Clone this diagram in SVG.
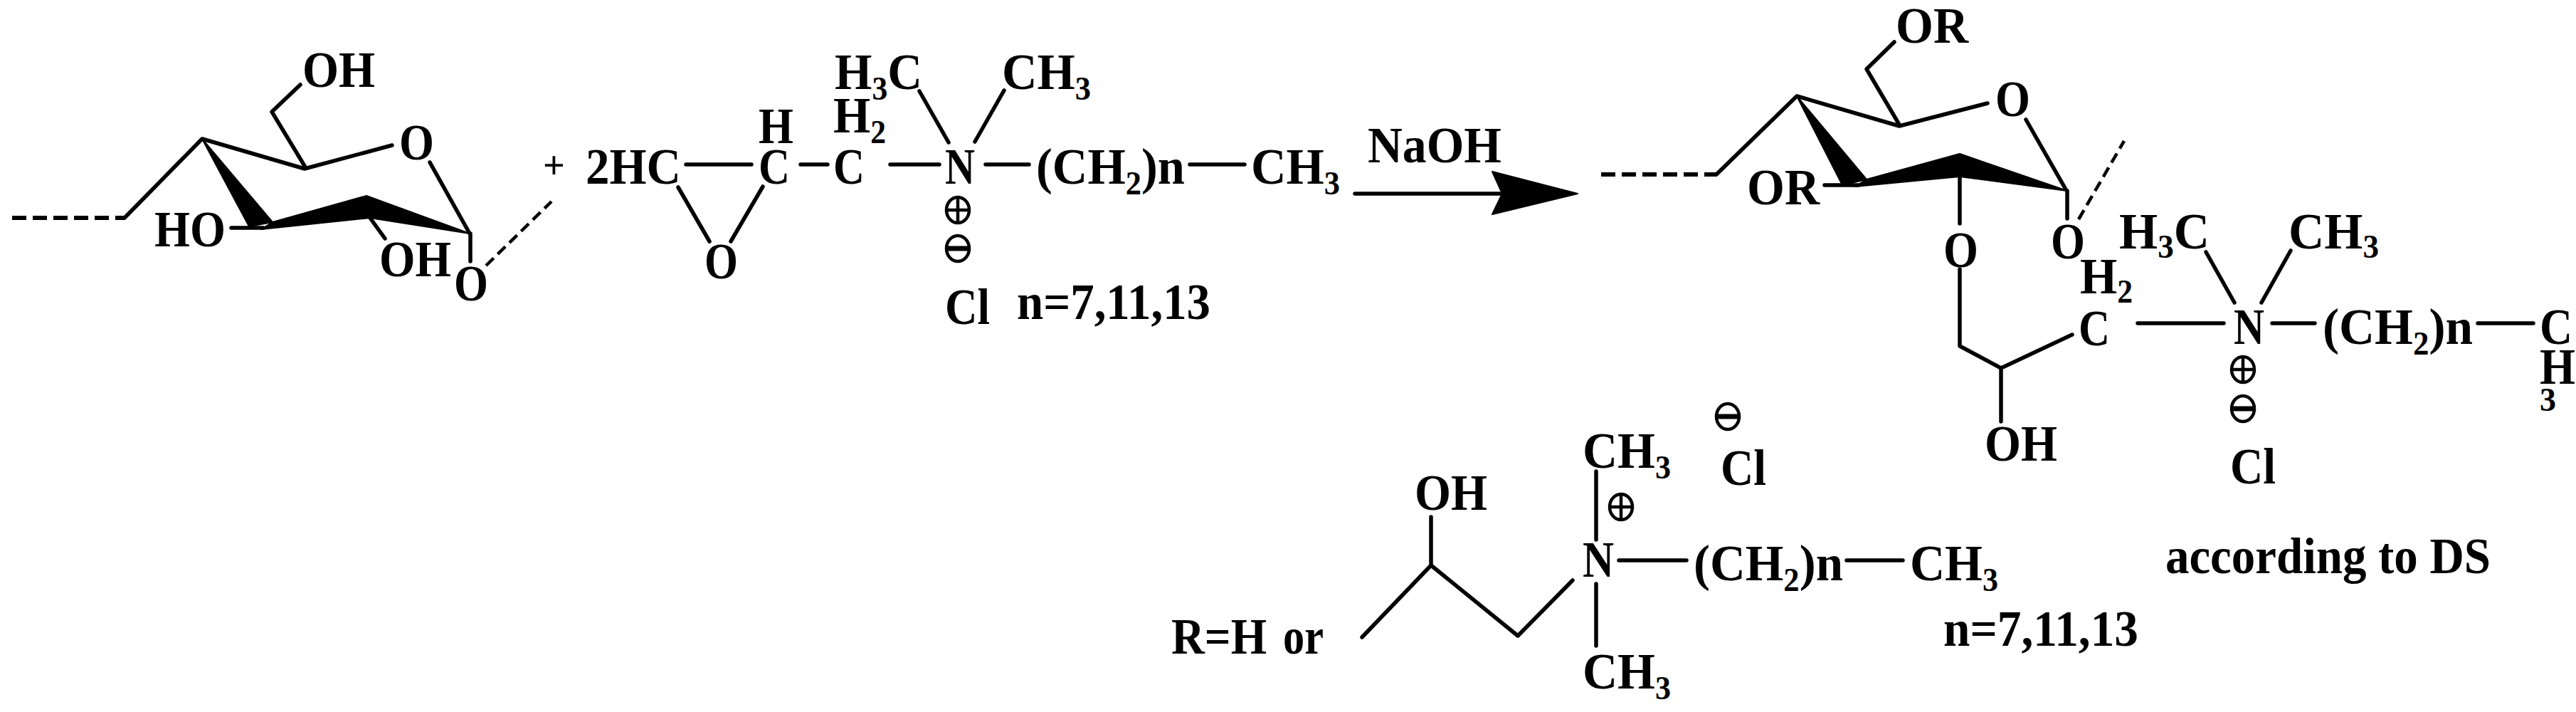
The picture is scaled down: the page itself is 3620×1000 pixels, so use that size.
<svg xmlns="http://www.w3.org/2000/svg" width="3620" height="1000" viewBox="0 0 3620 1000">
<style>
text{font-family:"Liberation Serif","Times New Roman",serif;font-weight:bold;font-size:71px;fill:#000}
tspan.s{font-size:46px}
.b{stroke:#000;stroke-width:5.5;fill:none;stroke-linecap:round;stroke-linejoin:round}
.d{stroke:#000;stroke-width:6;fill:none;stroke-dasharray:20 9}
.e{stroke:#000;stroke-width:4.5;fill:none;stroke-dasharray:15 8}
.w{fill:#000;stroke:#000;stroke-width:2;stroke-linejoin:round}
.c{fill:none;stroke:#000;stroke-width:4.5}
</style>
<defs>
<g id="plus"><ellipse class="c" rx="16" ry="18"/><path class="c" d="M-16 0H16M0-18V18"/></g>
<g id="minus"><ellipse class="c" rx="16" ry="18"/><path d="M-15-3.500H15V3.500H-15Z" fill="#000"/></g>
</defs>
<rect width="3620" height="1000" fill="#fff"/>
<g id="connectors">
<path class="d" d="M17 306H175"/>
<path class="b" d="M175 306L284 195L428 237L551 204M428 233L382 157L422 119M520 306L541 335M604 228L660 328M661 328V367M325 320H370"/>
<path class="e" d="M683 373L775 283"/>
<polygon class="w" points="284,195 350,318 383,312"/>
<polygon class="w" points="367,322 383,312 515,275 660,328 520,306"/>
<path class="b" d="M964 231H1056M1125 231H1163M1251 231H1320M1385 231H1446M1672 231H1749M1292 128L1333 200M1411 127L1370 199M953 263L997 339M1072 262L1027 339"/>
<path class="b" d="M1904 272H2110" stroke-linecap="butt"/>
<polygon class="w" points="2217,272 2097,241 2111,272 2097,301"/>
<path class="d" d="M2250 245H2412"/>
<path class="b" d="M2412 245L2525 135L2669 177L2793 145M2669 175L2623 97L2662 59M2847 168L2903 266M2564 260H2612M2754 248V314M2905 268V307M2754 378V486L2812 517L2912 470M2812 517V592M3004 454H3125M3193 454H3253M3482 454H3560M3100 354L3140 425M3219 352L3178 425"/>
<path class="e" d="M2921 308L2985 198"/>
<polygon class="w" points="2525,135 2589,260 2623,252"/>
<polygon class="w" points="2607,262 2623,252 2754,216 2905,268 2754,248"/>
<path class="b" d="M2243 662V758M2243 820V907M2011 726V794L1914 895M2011 794L2133 893L2210 815M2275 787H2370M2595 787H2674"/>
</g>
<g id="glucose">
<text x="425" y="122" textLength="102" lengthAdjust="spacingAndGlyphs">OH</text>
<text x="561" y="224" textLength="49" lengthAdjust="spacingAndGlyphs">O</text>
<text x="217" y="346" textLength="100" lengthAdjust="spacingAndGlyphs">HO</text>
<text x="533" y="388" textLength="101" lengthAdjust="spacingAndGlyphs">OH</text>
<text x="638" y="422" textLength="48" lengthAdjust="spacingAndGlyphs">O</text>
<text x="763" y="250" style="font-size:54px">+</text>
</g>
<g id="reagent">
<text x="823" y="258" textLength="134" lengthAdjust="spacingAndGlyphs">2HC</text>
<text x="1066" y="258" textLength="44" lengthAdjust="spacingAndGlyphs">C</text>
<text x="1066" y="201" textLength="49" lengthAdjust="spacingAndGlyphs">H</text>
<text x="1171" y="258" textLength="44" lengthAdjust="spacingAndGlyphs">C</text>
<text x="1171" y="186" textLength="74" lengthAdjust="spacingAndGlyphs">H<tspan class="s" dy="15">2</tspan></text>
<text x="1328" y="258" textLength="42" lengthAdjust="spacingAndGlyphs">N</text>
<text x="1456" y="258" textLength="209" lengthAdjust="spacingAndGlyphs">(CH<tspan class="s" dy="15">2</tspan><tspan dy="-15">)n</tspan></text>
<text x="1758" y="258" textLength="125" lengthAdjust="spacingAndGlyphs">CH<tspan class="s" dy="15">3</tspan></text>
<text x="1173" y="125" textLength="123" lengthAdjust="spacingAndGlyphs">H<tspan class="s" dy="15">3</tspan><tspan dy="-15">C</tspan></text>
<text x="1408" y="125" textLength="125" lengthAdjust="spacingAndGlyphs">CH<tspan class="s" dy="15">3</tspan></text>
<text x="990" y="391" textLength="47" lengthAdjust="spacingAndGlyphs">O</text>
<use href="#plus" x="1346" y="295"/>
<use href="#minus" x="1346" y="349"/>
<text x="1328" y="455" textLength="63" lengthAdjust="spacingAndGlyphs">Cl</text>
<text x="1429" y="448" textLength="272" lengthAdjust="spacingAndGlyphs">n=7,11,13</text>
</g>
<g id="arrow-label">
<text x="1922" y="228" textLength="188" lengthAdjust="spacingAndGlyphs">NaOH</text>
</g>
<g id="product">
<text x="2664" y="60" textLength="102" lengthAdjust="spacingAndGlyphs">OR</text>
<text x="2804" y="163" textLength="49" lengthAdjust="spacingAndGlyphs">O</text>
<text x="2455" y="287" textLength="102" lengthAdjust="spacingAndGlyphs">OR</text>
<text x="2882" y="363" textLength="48" lengthAdjust="spacingAndGlyphs">O</text>
<text x="2731" y="375" textLength="49" lengthAdjust="spacingAndGlyphs">O</text>
<text x="2789" y="647" textLength="102" lengthAdjust="spacingAndGlyphs">OH</text>
<text x="2921" y="485" textLength="44" lengthAdjust="spacingAndGlyphs">C</text>
<text x="2923" y="412" textLength="74" lengthAdjust="spacingAndGlyphs">H<tspan class="s" dy="13">2</tspan></text>
<text x="3139" y="483" textLength="43" lengthAdjust="spacingAndGlyphs">N</text>
<text x="3264" y="483" textLength="211" lengthAdjust="spacingAndGlyphs">(CH<tspan class="s" dy="15">2</tspan><tspan dy="-15">)n</tspan></text>
<text x="3569" y="483" textLength="46" lengthAdjust="spacingAndGlyphs">C</text>
<text x="3569" y="539" textLength="50" lengthAdjust="spacingAndGlyphs">H</text>
<text x="3569" y="577" style="font-size:46px">3</text>
<text x="2978" y="349" textLength="127" lengthAdjust="spacingAndGlyphs">H<tspan class="s" dy="13">3</tspan><tspan dy="-13">C</tspan></text>
<text x="3216" y="349" textLength="127" lengthAdjust="spacingAndGlyphs">CH<tspan class="s" dy="13">3</tspan></text>
<use href="#plus" x="3152" y="519"/>
<use href="#minus" x="3152" y="574"/>
<text x="3134" y="679" textLength="64" lengthAdjust="spacingAndGlyphs">Cl</text>
<text x="3043" y="805" textLength="457" lengthAdjust="spacingAndGlyphs">according to DS</text>
</g>
<g id="r-group">
<text x="1646" y="918" textLength="134" lengthAdjust="spacingAndGlyphs">R=H</text>
<text x="1803" y="918" textLength="57" lengthAdjust="spacingAndGlyphs">or</text>
<text x="1988" y="716" textLength="102" lengthAdjust="spacingAndGlyphs">OH</text>
<text x="2224" y="657" textLength="124" lengthAdjust="spacingAndGlyphs">CH<tspan class="s" dy="15">3</tspan></text>
<use href="#plus" x="2278" y="712"/>
<use href="#minus" x="2428" y="585"/>
<text x="2418" y="681" textLength="64" lengthAdjust="spacingAndGlyphs">Cl</text>
<text x="2224" y="810" textLength="44" lengthAdjust="spacingAndGlyphs">N</text>
<text x="2380" y="815" textLength="210" lengthAdjust="spacingAndGlyphs">(CH<tspan class="s" dy="15">2</tspan><tspan dy="-15">)n</tspan></text>
<text x="2684" y="815" textLength="124" lengthAdjust="spacingAndGlyphs">CH<tspan class="s" dy="15">3</tspan></text>
<text x="2224" y="967" textLength="124" lengthAdjust="spacingAndGlyphs">CH<tspan class="s" dy="15">3</tspan></text>
<text x="2731" y="907" textLength="274" lengthAdjust="spacingAndGlyphs">n=7,11,13</text>
</g>
</svg>
